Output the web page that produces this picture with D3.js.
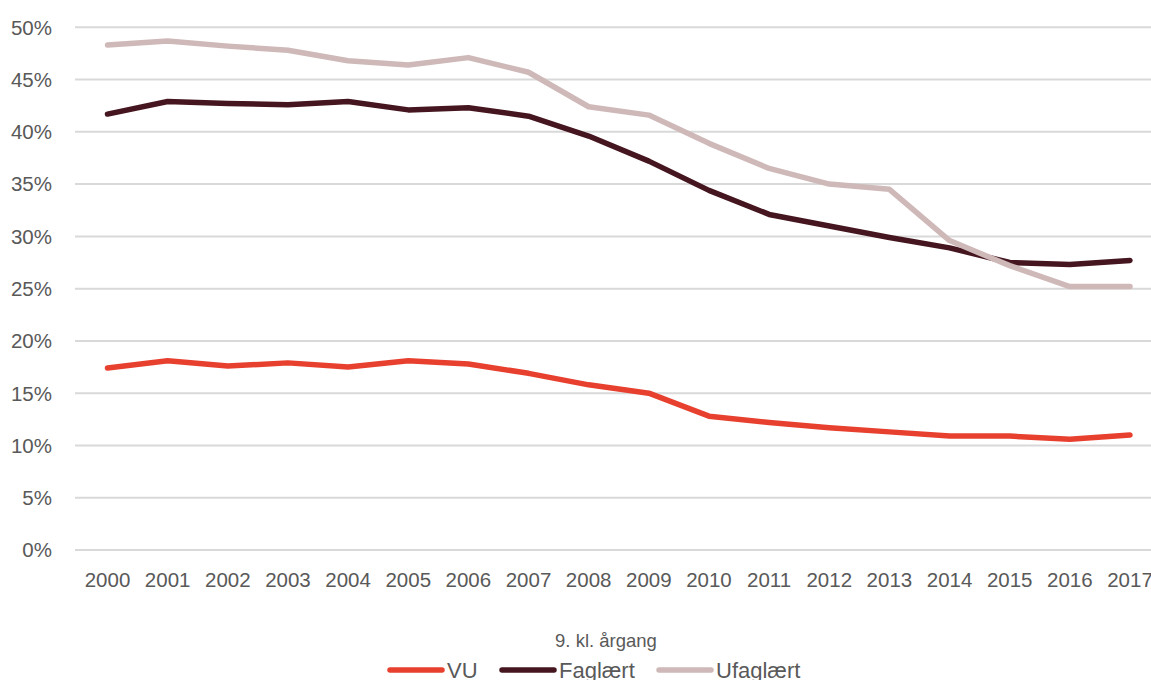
<!DOCTYPE html>
<html>
<head>
<meta charset="utf-8">
<script src="https://cdn.jsdelivr.net/npm/d3@7"></script>
<style>
  body { margin: 0; background: #fff; }
  text { font-family: "Liberation Sans", Arial, sans-serif; fill: #595959; }
</style>
</head>
<body>
<div id="chart"></div>
<script>
var width = 1151;
var height = 680;

var years = [2000, 2001, 2002, 2003, 2004, 2005, 2006, 2007, 2008, 2009,
             2010, 2011, 2012, 2013, 2014, 2015, 2016, 2017];
var vu = [17.4, 18.1, 17.6, 17.9, 17.5, 18.1, 17.8, 16.9, 15.8, 15.0,
          12.8, 12.2, 11.7, 11.3, 10.9, 10.9, 10.6, 11.0];
var faglaert = [41.7, 42.9, 42.7, 42.6, 42.9, 42.1, 42.3, 41.5, 39.6, 37.2,
                34.4, 32.1, 31.0, 29.9, 28.9, 27.5, 27.3, 27.7];
var ufaglaert = [48.3, 48.7, 48.2, 47.8, 46.8, 46.4, 47.1, 45.7, 42.4, 41.6,
                 38.9, 36.5, 35.0, 34.5, 29.6, 27.2, 25.2, 25.2];
var yTicks = [0, 5, 10, 15, 20, 25, 30, 35, 40, 45, 50];
var seriesNames = ['VU', 'Faglært', 'Ufaglært'];
var seriesColors = ['#e8402f', '#45161f', '#cfb8b8'];
var axisTitle = '9. kl. årgang';

var series = [vu, faglaert, ufaglaert].map(function(vals, i) {
    return { name: seriesNames[i], color: seriesColors[i],
             values: vals.map(function(v, j) { return { year: years[j], v: v }; }) };
});

var svg = d3.select('#chart')
    .append('svg')
    .attr('width', width)
    .attr('height', height);

var x = d3.scalePoint().domain(years).range([107.5, 1130]);
var y = d3.scaleLinear().domain([0, 50]).range([550, 27.3]);

// gridlines
svg.append('g')
    .selectAll('line')
    .data(yTicks)
    .enter().append('line')
    .attr('x1', 75).attr('x2', width)
    .attr('y1', function(d) { return y(d); })
    .attr('y2', function(d) { return y(d); })
    .attr('stroke', '#d9d9d9')
    .attr('stroke-width', 2);

// y labels
svg.append('g')
    .selectAll('text')
    .data(yTicks)
    .enter().append('text')
    .attr('x', 52)
    .attr('y', function(d) { return y(d); })
    .attr('dy', '0.36em')
    .attr('text-anchor', 'end')
    .style('font-size', '20.5px')
    .text(function(d) { return d + '%'; });

// x labels
svg.append('g')
    .selectAll('text')
    .data(years)
    .enter().append('text')
    .attr('x', function(d) { return x(d); })
    .attr('y', 580)
    .attr('dy', '0.36em')
    .attr('text-anchor', 'middle')
    .style('font-size', '20.5px')
    .text(function(d) { return d; });

var line = d3.line()
    .x(function(d) { return x(d.year); })
    .y(function(d) { return y(d.v); });

svg.append('g')
    .selectAll('path')
    .data(series)
    .enter().append('path')
    .attr('d', function(d) { return line(d.values); })
    .attr('fill', 'none')
    .attr('stroke', function(d) { return d.color; })
    .attr('stroke-width', 5.5)
    .attr('stroke-linejoin', 'round')
    .attr('stroke-linecap', 'round');

// axis title
svg.append('text')
    .attr('x', 606)
    .attr('y', 640)
    .attr('dy', '0.36em')
    .attr('text-anchor', 'middle')
    .style('font-size', '18.5px')
    .text(axisTitle);

// legend
var legendX = [390, 502, 659];
var leg = svg.append('g')
    .selectAll('g')
    .data(series)
    .enter().append('g')
    .attr('transform', function(d, i) { return 'translate(' + legendX[i] + ',670)'; });
leg.append('line')
    .attr('x1', 0).attr('x2', 52)
    .attr('stroke', function(d) { return d.color; })
    .attr('stroke-width', 5.5)
    .attr('stroke-linecap', 'round');
leg.append('text')
    .attr('x', 57)
    .attr('dy', '0.36em')
    .style('font-size', '22px')
    .text(function(d) { return d.name; });
</script>
</body>
</html>
